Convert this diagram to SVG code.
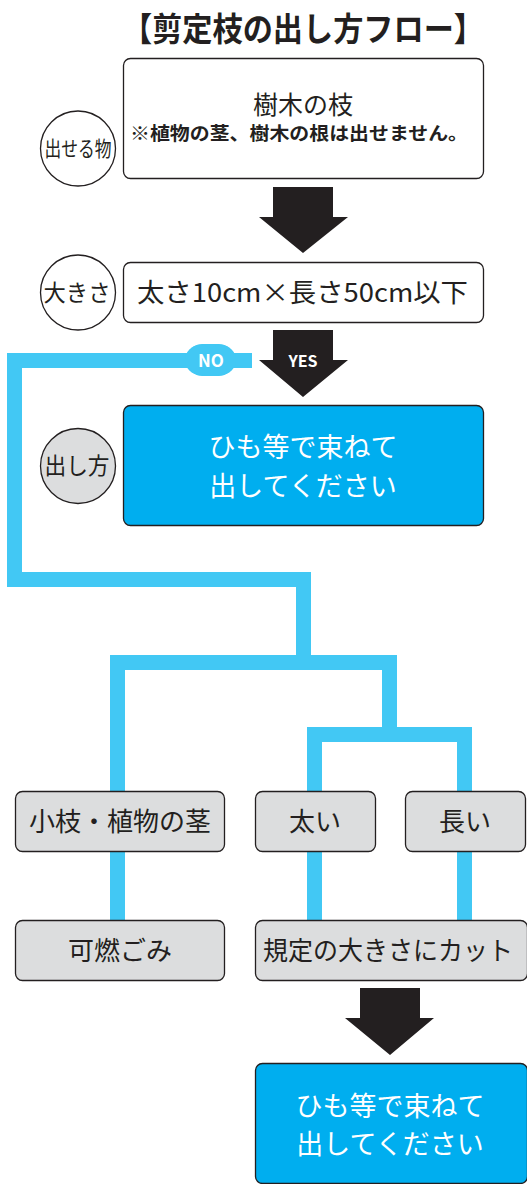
<svg xmlns="http://www.w3.org/2000/svg" width="527" height="1184" viewBox="0 0 527 1184">
<style>
.t{font-family:"Noto Sans CJK JP","Noto Sans",sans-serif;fill:#231F20;text-anchor:middle}
.w{fill:#FFFFFF}
.b{font-weight:bold}
.box{fill:#FFFFFF;stroke:#231F20;stroke-width:1.3}
.gbox{fill:#DCDDDE;stroke:#231F20;stroke-width:1.3}
.bbox{fill:#00AEEF;stroke:#231F20;stroke-width:1.3}
.circ{fill:#FFFFFF;stroke:#231F20;stroke-width:1.3}
.arrow{fill:#231F20}
.ln{fill:none;stroke:#42C8F4;stroke-width:15;stroke-linejoin:miter;stroke-linecap:butt}
</style>
<rect width="527" height="1184" fill="#FFFFFF"/>
<text id="title" class="t b" x="303" y="41" font-size="33" textLength="362" lengthAdjust="spacingAndGlyphs">【剪定枝の出し方フロー】</text>

<g id="connectors">
<path class="ln" d="M252 360.5 H14.5 V579.5 H303.5 V662.5"/>
<path class="ln" d="M117.5 791 V662.5 H389.5 V734.5"/>
<path class="ln" d="M314.5 920 V734.5 H464.5 V920"/>
<path class="ln" d="M117.5 852 V920"/>
<g id="no-label">
<rect x="188" y="344" width="45" height="32" rx="14" fill="#42C8F4"/>
<circle cx="200" cy="360" r="15" fill="#42C8F4"/>
<circle cx="221" cy="360" r="15" fill="#42C8F4"/>
<text class="t b w" x="211" y="366.5" font-size="17">NO</text>
</g>
<polygon id="arrow1" class="arrow" points="273,187 333,187 333,217 348,217 303,253 259,217 273,217"/>
<g id="arrow2">
<polygon class="arrow" points="273,330 333,330 333,360 348,360 303,397 259,360 273,360"/>
<text class="t b w" x="303" y="367" font-size="16">YES</text>
</g>
<polygon id="arrow3" class="arrow" points="360,988 420,988 420,1018 434,1018 390,1055 345,1018 360,1018"/>
</g>

<g id="label-deseru">
<circle class="circ" cx="78" cy="148.5" r="37.5"/>
<text class="t" x="78" y="156" font-size="21" textLength="67" lengthAdjust="spacingAndGlyphs">出せる物</text>
</g>
<g id="node-eda">
<rect class="box" x="123.5" y="58.5" width="360" height="120" rx="7"/>
<text class="t" x="303" y="114" font-size="25">樹木の枝</text>
<text class="t b" x="299" y="140" font-size="18.5" textLength="338" lengthAdjust="spacingAndGlyphs">※植物の茎、樹木の根は出せません。</text>
</g>

<g id="label-ookisa">
<circle class="circ" cx="78" cy="292.5" r="37.5"/>
<text class="t" x="77" y="300.5" font-size="23" textLength="67" lengthAdjust="spacingAndGlyphs">大きさ</text>
</g>
<g id="node-size">
<rect class="box" x="123.5" y="262.5" width="360" height="60" rx="7"/>
<text class="t" x="302.5" y="302" font-size="26" textLength="331" lengthAdjust="spacingAndGlyphs">太さ10cm×長さ50cm以下</text>
</g>

<g id="label-dashikata">
<circle class="circ" cx="78" cy="466" r="37.5" style="fill:#DCDDDE"/>
<text class="t" x="77" y="474" font-size="23" textLength="65" lengthAdjust="spacingAndGlyphs">出し方</text>
</g>
<g id="node-yes">
<rect class="bbox" x="123.5" y="405.5" width="360" height="120" rx="7"/>
<text class="t w" x="303" y="457" font-size="27">ひも等で束ねて</text>
<text class="t w" x="303" y="495.5" font-size="27">出してください</text>
</g>

<g id="node-koeda">
<rect class="gbox" x="15.5" y="791.5" width="209" height="60" rx="7"/>
<text class="t" x="120" y="831" font-size="26">小枝・植物の茎</text>
</g>
<g id="node-futoi">
<rect class="gbox" x="255.5" y="791.5" width="120" height="60" rx="7"/>
<text class="t" x="315" y="831" font-size="26">太い</text>
</g>
<g id="node-nagai">
<rect class="gbox" x="405.5" y="791.5" width="120" height="60" rx="7"/>
<text class="t" x="465" y="831" font-size="26">長い</text>
</g>
<g id="node-kanen">
<rect class="gbox" x="15.5" y="920.5" width="209" height="60" rx="7"/>
<text class="t" x="120" y="959.5" font-size="26">可燃ごみ</text>
</g>
<g id="node-cut">
<rect class="gbox" x="255.5" y="920.5" width="272" height="60" rx="7"/>
<text class="t" x="388" y="959.5" font-size="26" textLength="250" lengthAdjust="spacingAndGlyphs">規定の大きさにカット</text>
</g>
<g id="node-final">
<rect class="bbox" x="255.5" y="1063.5" width="272" height="120" rx="7"/>
<text class="t w" x="390" y="1115.5" font-size="27">ひも等で束ねて</text>
<text class="t w" x="390" y="1153.5" font-size="27">出してください</text>
</g>
</svg>
